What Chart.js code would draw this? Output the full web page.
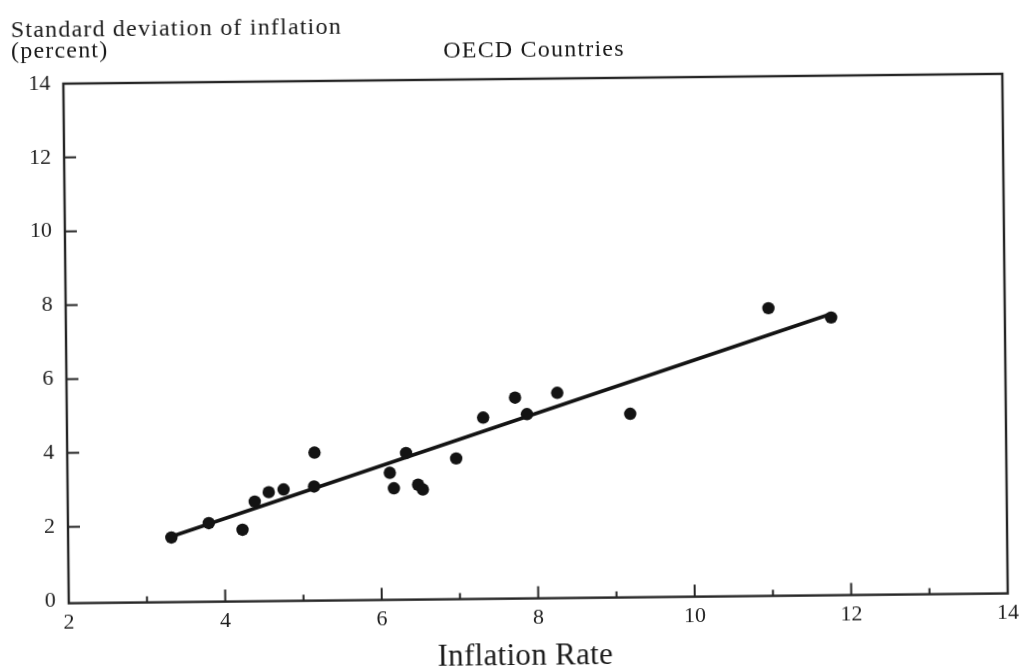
<!DOCTYPE html>
<html>
<head>
<meta charset="utf-8">
<title>OECD Countries</title>
<script src="https://cdn.jsdelivr.net/npm/chart.js@4.4.1/dist/chart.umd.min.js"></script>
<style>
  html, body { margin: 0; padding: 0; background: #fff; }
  #wrap { width: 1022px; height: 670px; overflow: hidden; background: #fff; }
  /* the printed page sits very slightly tilted */
  #c { display: block; transform: rotate(-0.6deg); transform-origin: 511px 335px; }
</style>
</head>
<body>
<div id="wrap"><canvas id="c" width="1022" height="670"></canvas></div>
<script>
// Average inflation rate (percent) for each OECD country
const inflationRate = [3.32, 3.80, 4.23, 4.39, 4.57, 4.76, 5.15, 5.16, 6.12, 6.17, 6.33,
                       6.48, 6.54, 6.97, 7.32, 7.73, 7.88, 8.27, 9.20, 10.98, 11.78];
// Standard deviation of inflation (percent) for the same countries
const inflationSd = [1.68, 2.06, 1.87, 2.63, 2.88, 2.95, 3.02, 3.94, 3.37, 2.95, 3.90,
                     3.04, 2.91, 3.74, 4.84, 5.37, 4.92, 5.49, 4.90, 7.72, 7.45];
// Fitted regression line, end points
const trendX = [3.30, 11.75];
const trendY = [1.69, 7.53];

const xTickValues = [2, 3, 4, 5, 6, 7, 8, 9, 10, 11, 12, 13, 14];
const yTickValues = [0, 2, 4, 6, 8, 10, 12, 14];

const yTitleLines = ['Standard deviation of inflation', '(percent)'];
const chartTitle = 'OECD Countries';
const xTitle = 'Inflation Rate';

const ink = '#131313';
const serif = '"Liberation Serif", "Times New Roman", serif';

const scatterPoints = inflationRate.map((x, i) => ({ x, y: inflationSd[i] }));
const trendPoints = trendX.map((x, i) => ({ x, y: trendY[i] }));

// Box round the plot area plus short inward tick marks
const framePlugin = {
  id: 'frame',
  beforeDatasetsDraw(chart) {
    const { ctx, chartArea: a, scales } = chart;
    ctx.save();
    ctx.strokeStyle = '#262626';
    ctx.lineWidth = 2.4;
    ctx.strokeRect(a.left, a.top, a.right - a.left, a.bottom - a.top);
    ctx.lineWidth = 2;
    ctx.beginPath();
    scales.x.ticks.forEach(t => {
      if (t.value <= 2 || t.value >= 14) return;
      const px = scales.x.getPixelForValue(t.value);
      const len = t.value % 2 === 0 ? 12 : 6;
      ctx.moveTo(px, a.bottom);
      ctx.lineTo(px, a.bottom - len);
    });
    scales.y.ticks.forEach(t => {
      if (t.value <= 0 || t.value >= 14) return;
      const py = scales.y.getPixelForValue(t.value);
      ctx.moveTo(a.left, py);
      ctx.lineTo(a.left + 12, py);
    });
    ctx.stroke();
    ctx.restore();
  }
};

// Caption text: y-axis caption (top left), chart title and x-axis caption
const headingPlugin = {
  id: 'headings',
  afterDraw(chart) {
    const { ctx } = chart;
    ctx.save();
    ctx.fillStyle = '#1a1a1a';
    ctx.textBaseline = 'alphabetic';
    ctx.font = '24px ' + serif;
    if ('letterSpacing' in ctx) ctx.letterSpacing = '1.2px';
    ctx.textAlign = 'left';
    ctx.fillText(yTitleLines[0], 14, 32);
    ctx.fillText(yTitleLines[1], 14, 53);
    ctx.textAlign = 'center';
    ctx.fillText(chartTitle, 537, 57);
    ctx.font = '31px ' + serif;
    if ('letterSpacing' in ctx) ctx.letterSpacing = '0.3px';
    ctx.fillText(xTitle, 522, 665);
    ctx.restore();
  }
};

new Chart(document.getElementById('c'), {
  data: {
    datasets: [
      {
        type: 'scatter',
        label: 'Countries',
        data: scatterPoints,
        pointRadius: 6.2,
        pointHoverRadius: 6.2,
        pointBackgroundColor: ink,
        pointBorderWidth: 0,
        borderColor: ink
      },
      {
        type: 'line',
        label: 'Fit',
        data: trendPoints,
        borderColor: ink,
        borderWidth: 3.7,
        pointRadius: 0,
        fill: false,
        tension: 0
      }
    ]
  },
  options: {
    responsive: false,
    devicePixelRatio: 1,
    animation: false,
    layout: { padding: { left: 0, right: 6, top: 79, bottom: 0 } },
    plugins: {
      legend: { display: false },
      title: { display: false },
      tooltip: { enabled: false }
    },
    scales: {
      x: {
        type: 'linear',
        min: 2,
        max: 14,
        grid: { display: false, drawTicks: false },
        border: { display: false },
        afterBuildTicks: s => { s.ticks = xTickValues.map(v => ({ value: v })); },
        afterFit: s => { s.height = 71.4; },
        ticks: {
          autoSkip: false,
          maxRotation: 0,
          padding: 6,
          color: '#1e1e1e',
          font: { family: serif, size: 22 },
          callback: v => (v % 2 === 0 ? String(v) : '')
        }
      },
      y: {
        type: 'linear',
        min: -0.07,
        max: 14,
        grid: { display: false, drawTicks: false },
        border: { display: false },
        afterBuildTicks: s => { s.ticks = yTickValues.map(v => ({ value: v })); },
        afterFit: s => { s.width = 66; },
        ticks: {
          autoSkip: false,
          padding: 13,
          color: '#1e1e1e',
          font: { family: serif, size: 22 },
          callback: v => String(v)
        }
      }
    }
  },
  plugins: [framePlugin, headingPlugin]
});
</script>
</body>
</html>
